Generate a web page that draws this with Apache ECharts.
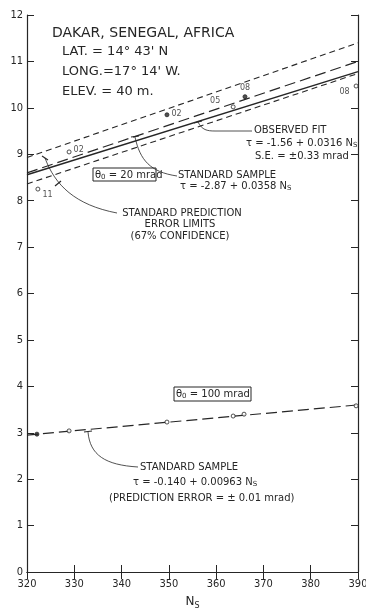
<!DOCTYPE html>
<html><head><meta charset="utf-8">
<script src="https://cdn.jsdelivr.net/npm/echarts@6.0.0/dist/echarts.min.js"></script>
<style>html,body{margin:0;padding:0;background:#fff}#c{width:366px;height:613px}</style>
</head><body><div id="c"></div>
<script>
// ---- data ----
const xTickValues = [320, 330, 340, 350, 360, 370, 380, 390];
const yTickValues = [0,1,2,3,4,5,6,7,8,9,10,11,12];
const lineNs = [320, 390];
const observedFit = [8.56, 10.78];      // tau = -1.56 + 0.0316 Ns
const standardSample = [8.60, 11.00];   // tau = -2.87 + 0.0358 Ns
const predUpper = [8.93, 11.40];
const predLower = [8.36, 10.74];
const lowerSample = [2.95, 3.60];       // tau = -0.140 + 0.00963 Ns
const upperNs = [322.3, 328.9, 349.6, 359.8, 363.6, 366.1, 389.6];
const upperTau = [8.25, 9.05, 9.85, 10.02, 10.02, 10.24, 10.47];
const upperLabels = ['11', '02', '02', '05', '', '08', '08'];
const lowerNs = [322.1, 328.9, 349.6, 363.6, 365.9, 389.6];
const lowerTau = [2.97, 3.04, 3.23, 3.36, 3.40, 3.58];

const INK = '#262626';
const FONT = '"DejaVu Sans", sans-serif';
const NUMFONT = '"DejaVu Sans Condensed", "DejaVu Sans", sans-serif';
const pair = (xs, ys) => xs.map((x, i) => [x, ys[i]]);

const upperLabelStyle = [
  {position: 'right', offset: [0, 6]},
  {position: 'right', offset: [0, -2]},
  {position: 'right', offset: [0, -1]},
  {position: 'top', offset: [0, 0]},
  {position: 'right'},
  {position: 'top', offset: [0, 0]},
  {position: 'left', offset: [-2, 6]}
];
const upperFilled = [false, false, true, true, false, true, false];

const chart = echarts.init(document.getElementById('c'), null, {renderer: 'canvas'});

function lineSeries(name, ys, dash, width) {
  return {
    name, type: 'line', xAxisIndex: 0, yAxisIndex: 0,
    data: pair(lineNs, ys), showSymbol: false, symbol: 'none', silent: true,
    lineStyle: {color: INK, width: width, type: dash}, z: 2
  };
}

const axisCommon = {
  axisLine: {show: true, lineStyle: {color: INK, width: 1.2}},
  axisTick: {show: true, inside: true, length: 7, lineStyle: {color: INK, width: 1}},
  splitLine: {show: false}
};

chart.setOption({
  backgroundColor: '#fff',
  animation: false,
  grid: {left: 27, right: 8, top: 15, bottom: 41, containLabel: false, outerBoundsMode: 'none'},
  xAxis: [
    Object.assign({type: 'value', min: 320, max: 390, interval: 10, position: 'bottom',
      axisLabel: {color: INK, fontSize: 11, fontFamily: NUMFONT, margin: 7},
      name: 'N{s|S}', nameLocation: 'middle', nameGap: 22,
      nameTextStyle: {color: INK, fontSize: 12, fontFamily: FONT,
        rich: {s: {fontSize: 8, fontFamily: FONT, color: INK, padding: [8, 0, 0, 0]}}}
    }, axisCommon),
    Object.assign({type: 'value', min: 320, max: 390, interval: 10, position: 'top',
      axisLabel: {show: false}}, axisCommon)
  ],
  yAxis: [
    Object.assign({type: 'value', min: 0, max: 12, interval: 1, position: 'left',
      axisLabel: {color: INK, fontSize: 11, fontFamily: NUMFONT, margin: 4},
      name: 'τ - mr', nameLocation: 'middle', nameGap: 12, nameRotate: 90,
      nameTextStyle: {color: INK, fontSize: 12, fontFamily: FONT}
    }, axisCommon),
    Object.assign({type: 'value', min: 0, max: 12, interval: 1, position: 'right',
      axisLabel: {show: false}}, axisCommon)
  ],
  series: [
    lineSeries('Observed fit', observedFit, 'solid', 1.5),
    lineSeries('Standard sample', standardSample, [11, 5], 1.2),
    lineSeries('Prediction upper', predUpper, [6, 4], 1.1),
    lineSeries('Prediction lower', predLower, [6, 4], 1.1),
    lineSeries('Standard sample 100', lowerSample, [11, 5], 1.2),
    {
      name: 'Upper points', type: 'scatter', symbol: 'circle', symbolSize: 4, z: 5,
      data: upperNs.map((x, i) => ({
        value: [x, upperTau[i]], name: upperLabels[i],
        itemStyle: upperFilled[i] ? {color: INK, borderColor: INK} : {color: '#fff', borderColor: INK, borderWidth: 1},
        symbolSize: i === 3 ? 0 : 4,
        label: Object.assign({show: upperLabels[i] !== '', formatter: '{b}',
          color: INK, fontSize: 8, fontFamily: FONT, distance: 2}, upperLabelStyle[i])
      }))
    },
    {
      name: 'Lower points', type: 'scatter', symbol: 'circle', symbolSize: 4, z: 5,
      itemStyle: {color: '#fff', borderColor: INK, borderWidth: 1},
      data: pair(lowerNs, lowerTau).map((v, i) => ({value: v,
        itemStyle: i === 0 ? {color: INK} : undefined}))
    }
  ]
});

// ---- annotations ----
const t = (x, y, text, opts) => Object.assign({
  type: 'text', x, y, z: 10, silent: true,
  style: Object.assign({text, fill: INK, font: '10px ' + FONT, textVerticalAlign: 'middle', textAlign: 'left',
    rich: {s: {fontSize: 7, fontFamily: FONT, fill: INK, padding: [5, 0, 0, 0]},
           n: {fontSize: 10, fontFamily: FONT, fill: INK}}}, opts || {})
});
const curve = (x1, y1, cx1, cy1, cx2, cy2, x2, y2) => ({
  type: 'bezierCurve', z: 9, silent: true,
  shape: {x1, y1, x2, y2, cpx1: cx1, cpy1: cy1, cpx2: cx2, cpy2: cy2},
  style: {stroke: INK, lineWidth: 0.8, fill: null}
});
const seg = (x1, y1, x2, y2, w) => ({type: 'line', z: 9, silent: true,
  shape: {x1, y1, x2, y2}, style: {stroke: INK, lineWidth: w || 0.8}});
const box = (x, y, w, h) => ({type: 'rect', z: 9, silent: true,
  shape: {x, y, width: w, height: h}, style: {stroke: INK, lineWidth: 1, fill: '#fff'}});

chart.setOption({graphic: [
  t(52, 33, 'DAKAR, SENEGAL, AFRICA', {font: '14px ' + FONT}),
  t(62, 52, 'LAT. = 14° 43\' N', {font: '13px ' + FONT}),
  t(62, 72, 'LONG.=17° 14\' W.', {font: '13px ' + FONT}),
  t(62, 92, 'ELEV. = 40 m.', {font: '13px ' + FONT}),

  box(93, 168, 63, 13),
  t(95, 175, 'θ{s|0} = 20 mrad', {font: '10px ' + FONT}),

  t(254, 130, 'OBSERVED FIT'),
  t(246, 143, 'τ = -1.56 + 0.0316 N{s|S}'),
  t(255, 156, 'S.E. = ±0.33 mrad'),

  t(178, 175, 'STANDARD SAMPLE'),
  t(180, 186, 'τ = -2.87 + 0.0358 N{s|S}'),

  t(182, 213, 'STANDARD PREDICTION', {textAlign: 'center'}),
  t(180, 224, 'ERROR LIMITS', {textAlign: 'center'}),
  t(180, 236, '(67% CONFIDENCE)', {textAlign: 'center'}),

  box(174, 387, 77, 14),
  t(176, 394, 'θ{s|0} = 100 mrad', {font: '10px ' + FONT}),

  t(140, 467, 'STANDARD SAMPLE'),
  t(133, 482, 'τ = -0.140 + 0.00963 N{s|S}'),
  t(109, 498, '(PREDICTION ERROR = ± 0.01 mrad)'),

  // leaders
  curve(45, 158, 55, 185, 75, 205, 117, 213),
  seg(42, 156, 48, 160, 1.2), seg(55, 186, 61, 181, 1.2),
  curve(135, 137, 140, 160, 150, 172, 177, 176),
  seg(131, 137, 139, 136, 1.2),
  curve(198, 122, 202, 130, 207, 131, 215, 131),
  seg(215, 131, 252, 131),
  seg(194, 123, 202, 121, 1.2),
  curve(88, 432, 90, 455, 105, 465, 138, 467),
  seg(84, 432, 92, 431, 1.2)
]});
</script></body></html>
